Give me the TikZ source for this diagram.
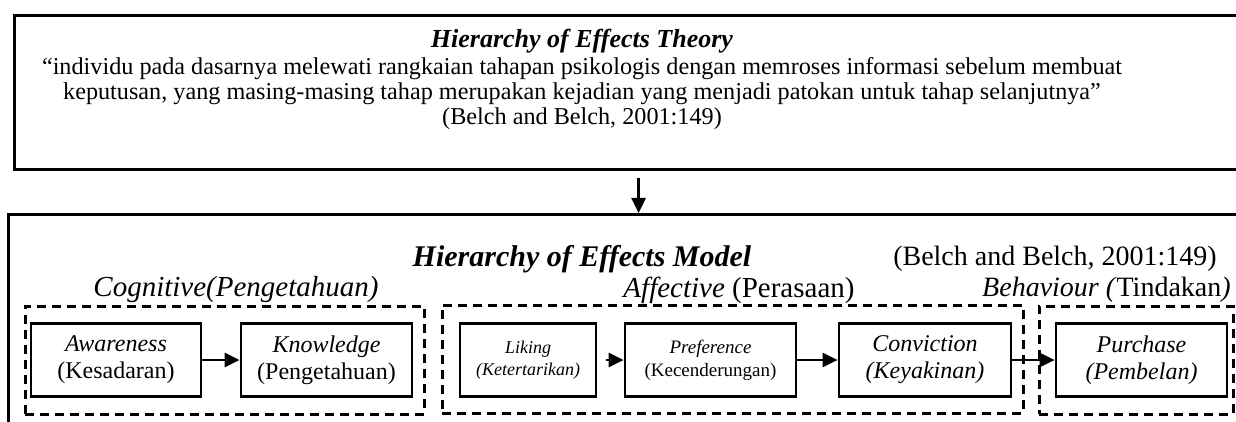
\documentclass[tikz,border=0pt]{standalone}
\usepackage{fontspec}
\setmainfont{Liberation Serif}
\usetikzlibrary{arrows.meta}

\begin{document}
\begin{tikzpicture}[
        x=1pt, y=-1pt,
        bigbox/.style={
            rectangle,
            draw,
            line width=3.2pt,
            anchor=north west,
            inner sep=0pt
        },
        groupbox/.style={
            rectangle,
            draw,
            line width=2.5pt,
            dash pattern=on 9pt off 6pt,
            anchor=north west,
            inner sep=0pt,
            minimum height=108pt
        },
        stagebox/.style={
            rectangle,
            draw,
            line width=2.7pt,
            align=center,
            inner sep=0pt,
            minimum width=171pt,
            minimum height=73pt,
            font=\fontsize{24}{27}\selectfont
        },
        stagearrow/.style={
            -{Triangle[length=15pt,width=14pt]},
            line width=2.6pt
        },
        grouplabel/.style={font=\fontsize{29}{31}\selectfont}
    ]

    \useasboundingbox (0,0) rectangle (1236,422);
    \clip (0,0) rectangle (1236,422);

    % ---------- Top: the theory ----------
    \node[bigbox, minimum width=1300pt, minimum height=154pt] (theorybox) at (13,14) {};
    \node[font=\fontsize{26}{28}\selectfont\bfseries\itshape] (theorytitle) at (582,41)
        {Hierarchy of Effects Theory};
    \node[font=\fontsize{24.2}{25}\selectfont, align=center, inner sep=0pt] (theorytext) at (582,94)
        {“individu pada dasarnya melewati rangkaian tahapan psikologis dengan memroses informasi sebelum membuat\\
         keputusan, yang masing-masing tahap merupakan kejadian yang menjadi patokan untuk tahap selanjutnya”\\
         (Belch and Belch, 2001:149)};

    % ---------- Bottom: the model ----------
    \node[bigbox, minimum width=1260pt, minimum height=300pt] (modelbox) at (7,213) {};
    \draw[stagearrow, shorten <=7pt] (theorybox.south -| modelbox.north) -- (modelbox.north);

    \node[font=\fontsize{30}{32}\selectfont\bfseries\itshape] (modeltitle) at (582,259)
        {Hierarchy of Effects Model};
    \node[grouplabel, font=\fontsize{28}{30}\selectfont] (modelsource) at (1055,259) {(Belch and Belch, 2001:149)};

    % group labels
    \node[grouplabel] (cognitivelabel) at (236,290) {\textit{Cognitive(Pengetahuan)}};
    \node[grouplabel] (affectivelabel) at (739,290) {\textit{Affective} (Perasaan)};
    \node[grouplabel, font=\fontsize{28}{30}\selectfont, anchor=west, inner sep=0pt] (behaviourlabel) at (982,290)
        {\textit{Behaviour (}Tindakan\textit{)}};

    % dashed groups
    \node[groupbox, minimum width=399pt] (cognitive) at (24,305) {};
    \node[groupbox, minimum width=581pt] (affective) at (441,304) {};
    \node[groupbox, minimum width=194pt] (behaviour) at (1038,305) {};

    % stages
    \node[stagebox, minimum width=170pt] (awareness) at (116,360)
        {\textit{Awareness}\\(Kesadaran)};
    \node[stagebox] (knowledge) at (326.5,360)
        {\textit{Knowledge}\\(Pengetahuan)};
    \node[stagebox, minimum width=136pt, font=\fontsize{18}{22}\selectfont\itshape] (liking) at (528,360)
        {Liking\\(Ketertarikan)};
    \node[stagebox, font=\fontsize{19}{23}\selectfont] (preference) at (710.5,360)
        {\textit{Preference}\\(Kecenderungan)};
    \node[stagebox, minimum width=172pt, font=\fontsize{24}{27}\selectfont\itshape] (conviction) at (925,360)
        {Conviction\\(Keyakinan)};
    \node[stagebox, font=\fontsize{24}{27}\selectfont\itshape] (purchase) at (1141.5,360)
        {Purchase\\(Pembelan)};

    \draw[stagearrow] (awareness) -- (knowledge);
    \draw[stagearrow, shorten <=9pt] (liking) -- (preference);
    \draw[stagearrow] (preference) -- (conviction);
    \draw[stagearrow] (conviction) -- (purchase);

\end{tikzpicture}
\end{document}
